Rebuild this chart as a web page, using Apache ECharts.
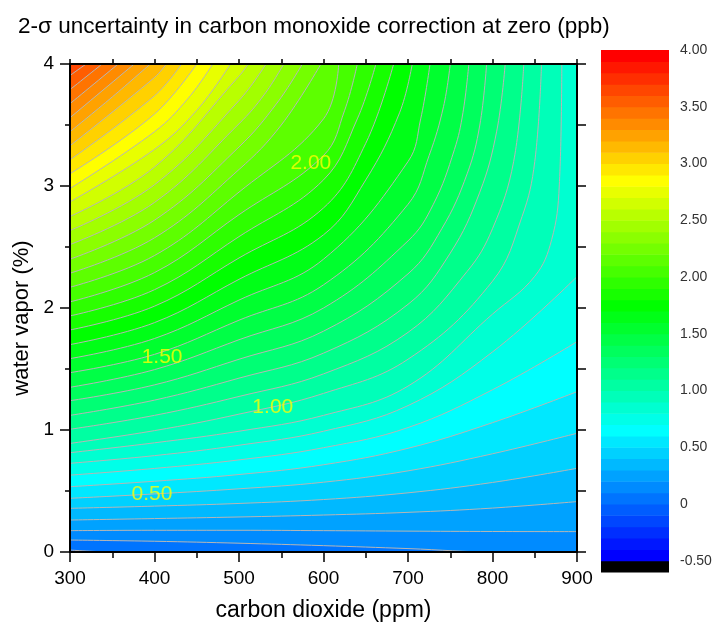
<!DOCTYPE html>
<html><head><meta charset="utf-8">
<script src="https://cdn.jsdelivr.net/npm/echarts@6/dist/echarts.min.js"></script>
<style>html,body{margin:0;padding:0;background:#fff}#c{width:713px;height:626px}</style>
</head><body><div id="c"></div>
<script>
// contour levels (ppb) and the contour lines: [CO2 ppm, water vapor %]
const levels = [0.0,0.1,0.2,0.3,0.4,0.5,0.6,0.7,0.8,0.9,1.0,1.1,1.2,1.3,1.4,1.5,1.6,1.7,1.8,1.9,2.0,2.1,2.2,2.3,2.4,2.5,2.6,2.7,2.8,2.9,3.0,3.1,3.2,3.3,3.4,3.5,3.6];
const contourPaths = [
  [[300,0.016],[355,0],[900,0]],
  [[300,0.098],[400,0.088],[500,0.072],[600,0.052],[700,0.028],[805,0],[900,0]],
  [[300,0.175],[400,0.178],[500,0.178],[600,0.175],[700,0.171],[800,0.168],[900,0.167]],
  [[300,0.262],[400,0.274],[500,0.287],[600,0.303],[700,0.325],[800,0.36],[900,0.413]],
  [[300,0.358],[400,0.376],[500,0.398],[600,0.43],[700,0.485],[800,0.57],[900,0.686]],
  [[300,0.44],[400,0.476],[500,0.518],[600,0.572],[700,0.665],[800,0.805],[900,0.973]],
  [[300,0.535],[400,0.58],[500,0.635],[600,0.715],[700,0.85],[800,1.06],[900,1.314]],
  [[300,0.63],[400,0.685],[500,0.755],[600,0.855],[700,1.02],[800,1.33],[900,1.724]],
  [[300,0.727],[400,0.79],[500,0.875],[600,0.99],[700,1.2],[800,1.64],[900,2.257]],
  [[300,0.814],[400,0.895],[500,0.99],[600,1.12],[700,1.36],[800,1.95],[850,2.26],[870,2.56],[879,3.0],[882,4]],
  [[300,0.89],[400,0.995],[500,1.13],[600,1.30],[700,1.58],[800,2.22],[835,2.75],[850,3.2],[858,4]],
  [[300,1.006],[400,1.12],[500,1.275],[600,1.46],[700,1.80],[770,2.3],[800,2.65],[825,3.2],[837,4]],
  [[300,1.12],[400,1.245],[500,1.425],[600,1.63],[700,2.03],[750,2.45],[785,2.95],[805,3.45],[815,4]],
  [[300,1.24],[400,1.37],[500,1.58],[600,1.81],[700,2.28],[740,2.65],[770,3.1],[785,3.5],[793,4]],
  [[300,1.35],[400,1.495],[500,1.74],[600,2.0],[700,2.55],[730,2.85],[755,3.3],[765,3.6],[772,4]],
  [[300,1.47],[400,1.62],[500,1.90],[600,2.19],[700,2.85],[725,3.25],[742,3.65],[750,4]],
  [[300,1.585],[400,1.75],[500,2.065],[600,2.40],[700,3.2],[715,3.55],[726,4]],
  [[300,1.70],[400,1.88],[500,2.235],[600,2.60],[650,3.05],[690,3.6],[705,4]],
  [[300,1.82],[400,2.015],[500,2.41],[600,2.82],[650,3.35],[683,4]],
  [[300,1.935],[400,2.15],[500,2.585],[600,3.05],[640,3.55],[662,4]],
  [[300,2.05],[400,2.29],[500,2.765],[600,3.25],[625,3.62],[640,4]],
  [[300,2.17],[400,2.43],[500,2.95],[600,3.55],[618,4]],
  [[300,2.285],[400,2.575],[500,3.135],[550,3.5],[597,4]],
  [[300,2.40],[400,2.72],[500,3.32],[545,3.68],[575,4]],
  [[300,2.52],[400,2.865],[500,3.51],[530,3.75],[553,4]],
  [[300,2.635],[400,3.01],[500,3.70],[532,4]],
  [[300,2.75],[400,3.155],[500,3.90],[511,4]],
  [[300,2.87],[400,3.30],[450,3.62],[490,4]],
  [[300,2.98],[400,3.445],[440,3.72],[469,4]],
  [[300,3.10],[400,3.59],[450,4]],
  [[300,3.215],[400,3.74],[432,4]],
  [[300,3.33],[400,3.89],[414,4]],
  [[300,3.445],[350,3.73],[395,4]],
  [[300,3.56],[376,4]],
  [[300,3.675],[357,4]],
  [[300,3.79],[338,4]],
  [[300,3.906],[319,4]]
];
const contourLabelTexts = ['0.50','1.00','1.50','2.00'];
const contourLabelX = [397, 540, 409, 585];
const contourLabelY = [0.475, 1.189, 1.598, 3.189];
const colorbarBandStarts = [-0.6,-0.5,-0.4,-0.3,-0.2,-0.1,0.0,0.1,0.2,0.3,0.4,0.5,0.6,0.7,0.8,0.9,1.0,1.1,1.2,1.3,1.4,1.5,1.6,1.7,1.8,1.9,2.0,2.1,2.2,2.3,2.4,2.5,2.6,2.7,2.8,2.9,3.0,3.1,3.2,3.3,3.4,3.5,3.6,3.7,3.8,3.9];
const colorbarLabelValues = [-0.5,0,0.5,1,1.5,2,2.5,3,3.5,4];

const FONT = "'Liberation Sans', Arial, sans-serif";
function hueColor(h) {
  const hp = h / 60, x = 1 - Math.abs(hp % 2 - 1);
  let r, g, b;
  if (hp < 1) { r = 1; g = x; b = 0; }
  else if (hp < 2) { r = x; g = 1; b = 0; }
  else if (hp < 3) { r = 0; g = 1; b = x; }
  else if (hp < 4) { r = 0; g = x; b = 1; }
  else { r = x; g = 0; b = 1; }
  const t = v => Math.round(v * 255);
  return 'rgb(' + t(r) + ',' + t(g) + ',' + t(b) + ')';
}
function bandColor(k) { return k < 0 ? '#000000' : hueColor(240 * (1 - k / 44)); }
function bandIndex(v) { return Math.round((v + 0.5) * 10); }

const series = [];
levels.forEach((L, i) => {
  series.push({
    type: 'line', xAxisIndex: 0, yAxisIndex: 0,
    data: contourPaths[i], showSymbol: false, symbol: 'none',
    smooth: 0.4, silent: true, z: 2,
    lineStyle: { color: '#b6b6b6', width: 1 },
    areaStyle: { origin: 'end', color: bandColor(bandIndex(L)), opacity: 1 }
  });
});
series.push({
  type: 'scatter', xAxisIndex: 0, yAxisIndex: 0, z: 6, silent: true,
  symbolSize: 1, itemStyle: { color: 'rgba(0,0,0,0)' },
  data: contourLabelX.map((x, i) => [x, contourLabelY[i]]),
  label: { show: true, position: 'inside', color: '#ffff00', fontSize: 21, fontFamily: FONT,
    formatter: p => contourLabelTexts[p.dataIndex] }
});
series.push({
  type: 'custom', xAxisIndex: 2, yAxisIndex: 2, silent: true,
  data: colorbarBandStarts.map(v => [0.5, v]), encode: { x: 0, y: 1 },
  renderItem: (params, api) => {
    const lo = api.value(1);
    const a = api.coord([0, lo + 0.1]);
    const b = api.coord([1, lo]);
    return { type: 'rect', shape: { x: a[0], y: a[1], width: b[0] - a[0], height: b[1] - a[1] + 0.6 },
      style: { fill: bandColor(bandIndex(lo)) } };
  }
});

const axisLine = { show: true, onZero: false, lineStyle: { color: '#000', width: 2 } };
const tickStyle = { color: '#000', width: 1.5 };
const option = {
  animation: false,
  backgroundColor: '#ffffff',
  title: { text: '2-σ uncertainty in carbon monoxide correction at zero (ppb)', left: 13, top: 10,
    textStyle: { fontSize: 22.5, fontWeight: 'normal', color: '#000', fontFamily: FONT } },
  grid: [
    { left: 70, top: 64, width: 507, height: 488, show: true, backgroundColor: bandColor(4), borderWidth: 0, outerBoundsMode: 'none', containLabel: false },
    { left: 601, top: 50, width: 68, height: 522, show: false, outerBoundsMode: 'none', containLabel: false }
  ],
  xAxis: [
    { type: 'value', gridIndex: 0, min: 300, max: 900, interval: 100, position: 'bottom', z: 10,
      name: 'carbon dioxide (ppm)', nameLocation: 'middle', nameGap: 47,
      nameTextStyle: { fontSize: 23, color: '#000', fontFamily: FONT },
      axisLine: axisLine, axisTick: { show: true, length: 10, lineStyle: tickStyle },
      minorTick: { show: true, splitNumber: 2, length: 6, lineStyle: tickStyle },
      axisLabel: { fontSize: 19, color: '#000', fontFamily: FONT, margin: 17 },
      splitLine: { show: false }, minorSplitLine: { show: false } },
    { type: 'value', gridIndex: 0, min: 300, max: 900, interval: 50, position: 'top', z: 10,
      axisLine: axisLine, axisTick: { show: true, length: 5, lineStyle: tickStyle },
      axisLabel: { show: false }, splitLine: { show: false } },
    { type: 'value', gridIndex: 1, min: 0, max: 1, show: false }
  ],
  yAxis: [
    { type: 'value', gridIndex: 0, min: 0, max: 4, interval: 1, position: 'left', z: 10,
      name: 'water vapor (%)', nameLocation: 'middle', nameGap: 37,
      nameTextStyle: { fontSize: 22, color: '#000', fontFamily: FONT, padding: [0, 20, 0, 0] },
      axisLine: axisLine, axisTick: { show: true, length: 10, lineStyle: tickStyle },
      minorTick: { show: true, splitNumber: 2, length: 5, lineStyle: tickStyle },
      axisLabel: { fontSize: 19, color: '#000', fontFamily: FONT, margin: 16 },
      splitLine: { show: false }, minorSplitLine: { show: false } },
    { type: 'value', gridIndex: 0, min: 0, max: 4, interval: 0.5, position: 'right', z: 10,
      axisLine: axisLine, axisTick: { show: true, length: 9, lineStyle: tickStyle },
      axisLabel: { show: false }, splitLine: { show: false } },
    { type: 'value', gridIndex: 1, min: -0.6, max: 4, position: 'right',
      axisLine: { show: false }, axisTick: { show: false }, splitLine: { show: false },
      axisLabel: { show: true, customValues: colorbarLabelValues, fontSize: 14, color: '#333', fontFamily: FONT, margin: 11,
        formatter: v => (Math.abs(v) < 1e-9 ? '0' : Number(v).toFixed(2)) } }
  ],
  series: series
};
const chart = echarts.init(document.getElementById('c'), null, { renderer: 'canvas' });
chart.setOption(option);
</script></body></html>
